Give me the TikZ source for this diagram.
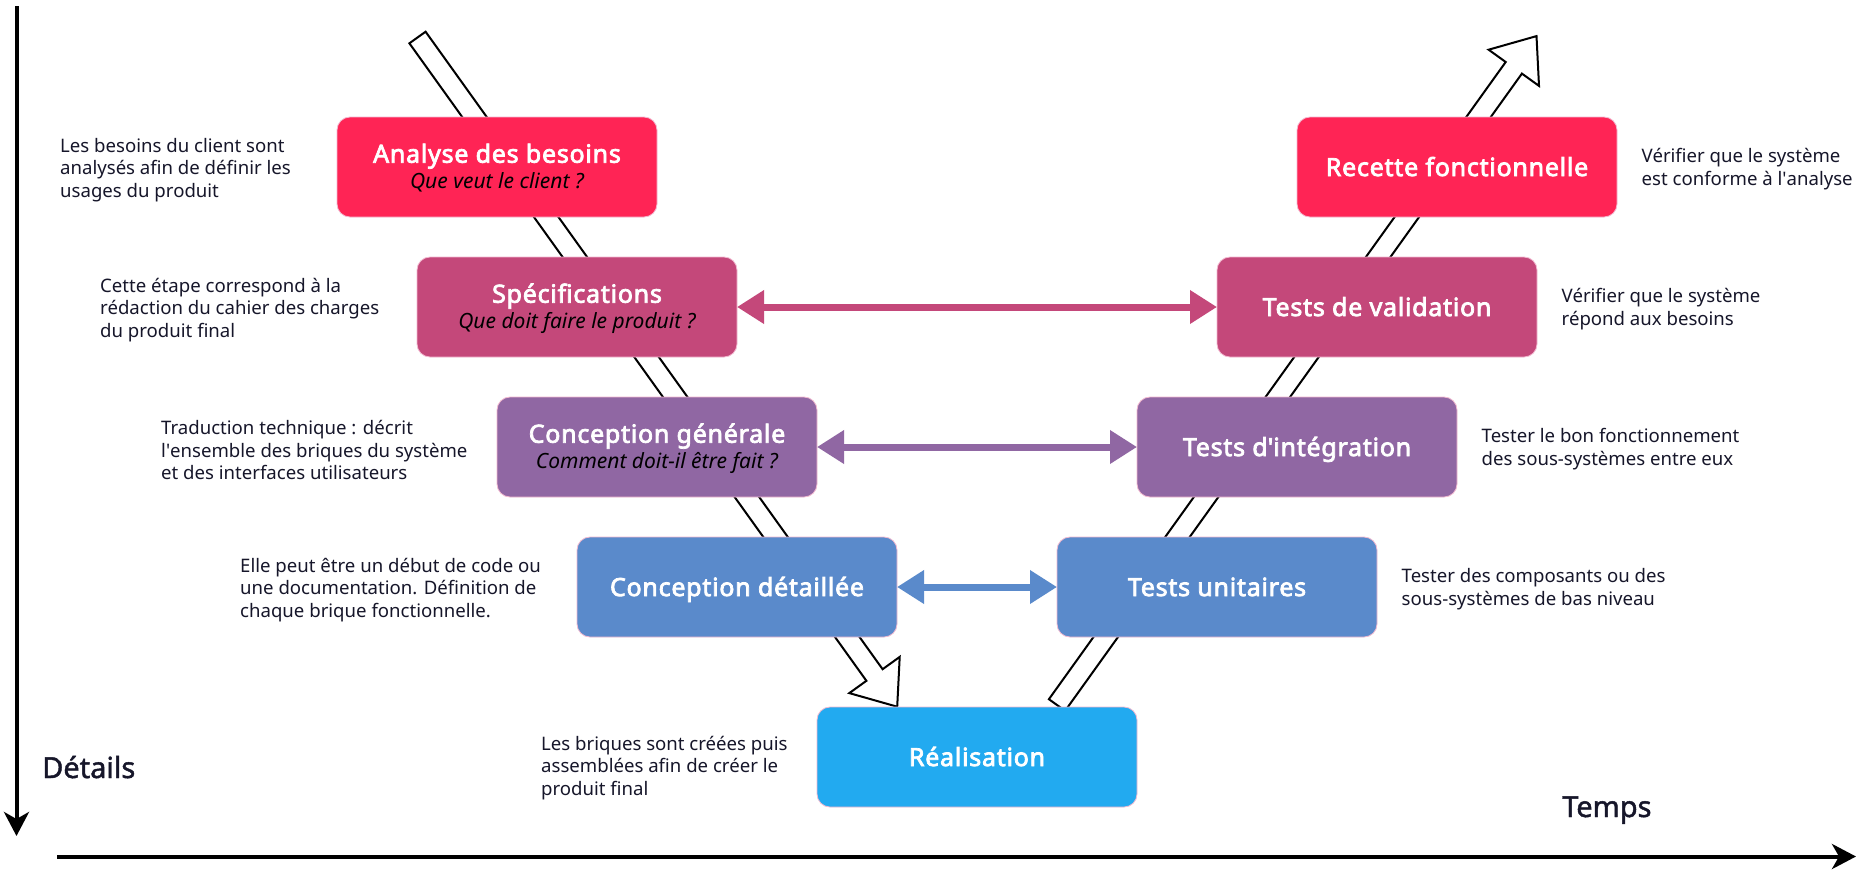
\documentclass[tikz,border=0pt]{standalone}
\usepackage{fontspec}
\setmainfont{Noto Sans}
\newfontfamily\ttlfont{Noto Sans}[FakeBold=3,LetterSpace=3]
\newfontfamily\lblfont{Noto Sans}[FakeBold=1.5]
\usetikzlibrary{arrows.meta,calc}
\definecolor{cred}{HTML}{FF2455}
\definecolor{cpink}{HTML}{C4487A}
\definecolor{cpurp}{HTML}{9067A3}
\definecolor{cblue}{HTML}{5A8ACB}
\definecolor{csky}{HTML}{22AAF0}
\definecolor{ctext}{HTML}{16162A}
\definecolor{cedge}{HTML}{F2B8CF}
\newcommand\ap{\textquotesingle}
\begin{document}
\begin{tikzpicture}[x=1pt,y=-1pt,
  box/.style={rectangle, rounded corners=13pt, minimum width=320pt, minimum height=100pt, inner sep=0pt, outer sep=0pt, draw=cedge, line width=0.8pt},
  ttl/.style={anchor=base, text=white, font=\ttlfont\fontsize{25}{28}\selectfont, inner sep=0pt},
  sub/.style={anchor=base, text=black, font=\fontsize{21}{24}\selectfont\itshape, inner sep=0pt},
  desc/.style={anchor=west, align=left, text=ctext, font=\fontsize{18.6}{22.5}\selectfont, inner sep=0pt},
  hollow/.style={draw=black, fill=white, line width=2pt, line join=miter},
  link/.style={line width=7pt, {Triangle[length=27pt,width=32pt]}-{Triangle[length=27pt,width=32pt]}},
  axis/.style={line width=4pt, -{Stealth[length=24pt,width=25pt,inset=7pt]}},
  axlabel/.style={anchor=base west, text=ctext, font=\lblfont\fontsize{29}{34}\selectfont, inner sep=0pt}
]
\fill[white] (0,0) rectangle (1876,876);
\useasboundingbox (0,0) rectangle (1876,876);

% hollow flow arrows (behind boxes)
\draw[hollow] (425.6,31.7) -- (882.6,669.2) -- (899.7,656.9) -- (897.2,706.7) -- (849.3,693.1) -- (866.4,680.8) -- (409.4,43.3) -- cycle;
\draw[hollow] (1065.1,710.8) -- (1521.9,73.6) -- (1539.0,85.9) -- (1536.5,36.1) -- (1488.6,49.7) -- (1505.7,62.0) -- (1048.9,699.2) -- cycle;

% boxes
\node[box, fill=cred]  (ana) at (497,167) {};
\node[box, fill=cpink] (spe) at (577,307) {};
\node[box, fill=cpurp] (cge) at (657,447) {};
\node[box, fill=cblue] (cde) at (737,587) {};
\node[box, fill=csky]  (rea) at (977,757) {};
\node[box, fill=cblue] (tun) at (1217,587) {};
\node[box, fill=cpurp] (tin) at (1297,447) {};
\node[box, fill=cpink] (tva) at (1377,307) {};
\node[box, fill=cred]  (rec) at (1457,167) {};

% box titles
\node[ttl] (anaT) at ([yshift=4.3pt]ana.center) {Analyse des besoins};
\node[sub] (anaS) at ([yshift=-21pt]ana.center) {Que veut le client ?};
\node[ttl] (speT) at ([yshift=4.3pt]spe.center) {Spécifications};
\node[sub] (speS) at ([yshift=-21pt]spe.center) {Que doit faire le produit ?};
\node[ttl] (cgeT) at ([yshift=4.3pt]cge.center) {Conception générale};
\node[sub] (cgeS) at ([yshift=-21pt]cge.center) {Comment doit-il être fait ?};
\node[ttl] (cdeT) at ([yshift=-9pt]cde.center) {Conception détaillée};
\node[ttl] (reaT) at ([yshift=-9pt]rea.center) {Réalisation};
\node[ttl] (tunT) at ([yshift=-9pt]tun.center) {Tests unitaires};
\node[ttl] (tinT) at ([yshift=-9pt]tin.center) {Tests d\ap intégration};
\node[ttl] (tvaT) at ([yshift=-9pt]tva.center) {Tests de validation};
\node[ttl] (recT) at ([yshift=-9pt]rec.center) {Recette fonctionnelle};

% descriptions left
\node[desc] (d1) at (60,170) {Les besoins du client sont\\analysés afin de définir les\\usages du produit};
\node[desc] (d2) at (100,310) {Cette étape correspond à la\\rédaction du cahier des charges\\du produit final};
\node[desc] (d3) at (161,450) {Traduction technique : décrit\\l\ap ensemble des briques du système\\et des interfaces utilisateurs};
\node[desc] (d4) at (240,590) {Elle peut être un début de code ou\\une documentation. Définition de\\chaque brique fonctionnelle.};
\node[desc] (d5) at (541,768) {Les briques sont créées puis\\assemblées afin de créer le\\produit final};

% descriptions right
\node[desc] (d9) at ([xshift=24.5pt,yshift=-2pt]rec.east) {Vérifier que le système\\est conforme à l\ap analyse};
\node[desc] (d8) at ([xshift=24.5pt,yshift=-2pt]tva.east) {Vérifier que le système\\répond aux besoins};
\node[desc] (d7) at ([xshift=24.5pt,yshift=-2pt]tin.east) {Tester le bon fonctionnement\\des sous-systèmes entre eux};
\node[desc] (d6) at ([xshift=24.5pt,yshift=-2pt]tun.east) {Tester des composants ou des\\sous-systèmes de bas niveau};

% correspondence links
\draw[link, cpink] (spe.east) -- (tva.west);
\draw[link, cpurp] (cge.east) -- (tin.west);
\draw[link, cblue] (cde.east) -- (tun.west);

% axes
\coordinate (vtop) at (16.5,6);
\coordinate (vbot) at (16.5,836);
\coordinate (hleft) at (57,856.5);
\coordinate (hright) at (1856,856.5);
\draw[axis] (vtop) -- (vbot);
\draw[axis] (hleft) -- (hright);
\node[axlabel] (lblD) at (42,778) {Détails};
\node[axlabel] (lblT) at (1562,817) {Temps};
\end{tikzpicture}
\end{document}
